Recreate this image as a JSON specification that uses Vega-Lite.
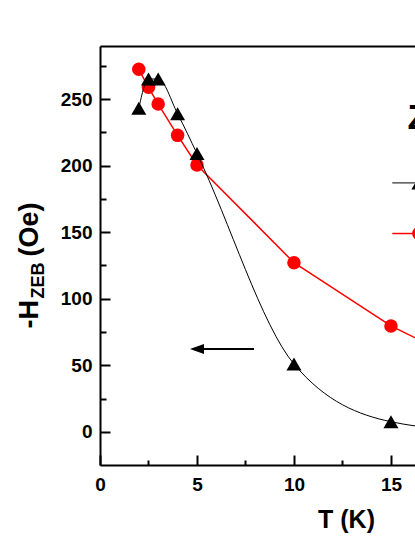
{
  "$schema": "https://vega.github.io/schema/vega-lite/v6.json",
  "width": 315,
  "height": 419,
  "autosize": {"type": "none"},
  "padding": {"left": 100, "top": 46, "right": 0, "bottom": 72},
  "background": "white",
  "config": {
    "view": {"stroke": null},
    "font": "Liberation Sans",
    "axis": {
      "domainColor": "#000000", "domainWidth": 2, "tickColor": "#000000", "tickWidth": 2,
      "labelFont": "Liberation Sans", "labelFontWeight": "bold", "labelColor": "#000000", "labelFontSize": 19,
      "titleFont": "Liberation Sans", "titleFontWeight": "bold", "titleColor": "#000000", "grid": false
    }
  },
  "datasets": {
    "hzeb": [
      {"T": 2, "H": 243, "sample": "S1"},
      {"T": 2.5, "H": 265, "sample": "S1"},
      {"T": 3, "H": 265, "sample": "S1"},
      {"T": 4, "H": 239, "sample": "S1"},
      {"T": 5, "H": 209, "sample": "S1"},
      {"T": 10, "H": 51, "sample": "S1"},
      {"T": 15, "H": 7.7, "sample": "S1"},
      {"T": 20, "H": 0, "sample": "S1"},
      {"T": 2, "H": 272.3, "sample": "S2"},
      {"T": 2.5, "H": 258.8, "sample": "S2"},
      {"T": 3, "H": 246.2, "sample": "S2"},
      {"T": 4, "H": 222.7, "sample": "S2"},
      {"T": 5, "H": 200.5, "sample": "S2"},
      {"T": 10, "H": 127.1, "sample": "S2"},
      {"T": 15, "H": 79.6, "sample": "S2"},
      {"T": 20, "H": 44, "sample": "S2"}
    ],
    "arrow": [{"T0": 5.0, "T1": 7.94, "H": 62.3}],
    "key": [
      {"sample": "S1", "T0": 15.07, "T1": 16.44, "H": 187},
      {"sample": "S2", "T0": 15.07, "T1": 16.44, "H": 149}
    ],
    "keytitle": [{"T": 15.85, "H": 227.5, "label": "Z"}]
  },
  "resolve": {"axis": {"x": "independent", "y": "independent"}},
  "layer": [
    {
      "data": {"name": "hzeb"},
      "transform": [{"filter": "datum.sample === 'S2'"}],
      "mark": {"type": "line", "color": "#ff0000", "strokeWidth": 1.5, "clip": true},
      "encoding": {
        "x": {"field": "T", "type": "quantitative",
          "scale": {"domain": [0, 16.24], "nice": false, "zero": false},
          "axis": {"orient": "bottom", "values": [0, 5, 10, 15], "tickSize": -10, "labelPadding": 20,
            "labelFlush": false, "labelOverlap": false, "title": "T (K)", "titleFontSize": 25,
            "titleX": 246, "titleY": 62, "titleAlign": "center", "titleBaseline": "alphabetic", "titleAngle": 0}},
        "y": {"field": "H", "type": "quantitative",
          "scale": {"domain": [-24.8, 289.8], "nice": false, "zero": false},
          "axis": {"orient": "left", "values": [0, 50, 100, 150, 200, 250], "tickSize": -10, "labelPadding": 18,
            "labelOverlap": false, "title": "-H", "titleFontSize": 27, "titleAngle": -90, "titleAlign": "left",
            "titleBaseline": "alphabetic", "titleX": -63, "titleY": 282}}
      }
    },
    {
      "data": {"name": "hzeb"},
      "transform": [{"filter": "datum.sample === 'S2'"}],
      "mark": {"type": "point", "shape": "circle", "filled": true, "opacity": 1, "color": "#ff0000", "size": 182, "clip": true},
      "encoding": {
        "x": {"field": "T", "type": "quantitative", "scale": {"domain": [0, 16.24], "nice": false, "zero": false}, "axis": null},
        "y": {"field": "H", "type": "quantitative", "scale": {"domain": [-24.8, 289.8], "nice": false, "zero": false}, "axis": null}
      }
    },
    {
      "data": {"name": "hzeb"},
      "transform": [{"filter": "datum.sample === 'S1'"}],
      "mark": {"type": "line", "color": "#000000", "strokeWidth": 1, "interpolate": "monotone", "clip": true},
      "encoding": {
        "x": {"field": "T", "type": "quantitative", "scale": {"domain": [0, 16.24], "nice": false, "zero": false}, "axis": null},
        "y": {"field": "H", "type": "quantitative", "scale": {"domain": [-24.8, 289.8], "nice": false, "zero": false}, "axis": null}
      }
    },
    {
      "data": {"name": "hzeb"},
      "transform": [{"filter": "datum.sample === 'S1'"}],
      "mark": {"type": "point", "shape": "triangle-up", "filled": true, "opacity": 1, "color": "#000000", "size": 225, "clip": true},
      "encoding": {
        "x": {"field": "T", "type": "quantitative", "scale": {"domain": [0, 16.24], "nice": false, "zero": false}, "axis": null},
        "y": {"field": "H", "type": "quantitative", "scale": {"domain": [-24.8, 289.8], "nice": false, "zero": false}, "axis": null}
      }
    },
    {
      "data": {"name": "arrow"},
      "mark": {"type": "rule", "color": "#000000", "strokeWidth": 2},
      "encoding": {
        "x": {"field": "T0", "type": "quantitative", "scale": {"domain": [0, 16.24], "nice": false, "zero": false}, "axis": null},
        "x2": {"field": "T1"},
        "y": {"field": "H", "type": "quantitative", "scale": {"domain": [-24.8, 289.8], "nice": false, "zero": false}, "axis": null}
      }
    },
    {
      "data": {"name": "arrow"},
      "mark": {"type": "point", "shape": "M-1,0L1,-0.72L1,0.72Z", "filled": true, "opacity": 1, "color": "#000000", "size": 196},
      "encoding": {
        "x": {"field": "T0", "type": "quantitative", "scale": {"domain": [0, 16.24], "nice": false, "zero": false}, "axis": null},
        "y": {"field": "H", "type": "quantitative", "scale": {"domain": [-24.8, 289.8], "nice": false, "zero": false}, "axis": null}
      }
    },
    {
      "data": {"name": "key"},
      "mark": {"type": "rule", "clip": true},
      "encoding": {
        "x": {"field": "T0", "type": "quantitative", "scale": {"domain": [0, 16.24], "nice": false, "zero": false}, "axis": null},
        "x2": {"field": "T1"},
        "y": {"field": "H", "type": "quantitative", "scale": {"domain": [-24.8, 289.8], "nice": false, "zero": false}, "axis": null},
        "color": {"field": "sample", "type": "nominal", "scale": {"domain": ["S1", "S2"], "range": ["#000000", "#ff0000"]}, "legend": null},
        "strokeWidth": {"field": "sample", "type": "nominal", "scale": {"domain": ["S1", "S2"], "range": [1, 1.5]}, "legend": null}
      }
    },
    {
      "data": {"name": "key"},
      "transform": [{"filter": "datum.sample === 'S1'"}],
      "mark": {"type": "point", "shape": "triangle-up", "filled": true, "opacity": 1, "color": "#000000", "size": 225, "clip": true},
      "encoding": {
        "x": {"field": "T1", "type": "quantitative", "scale": {"domain": [0, 16.24], "nice": false, "zero": false}, "axis": null},
        "y": {"field": "H", "type": "quantitative", "scale": {"domain": [-24.8, 289.8], "nice": false, "zero": false}, "axis": null}
      }
    },
    {
      "data": {"name": "key"},
      "transform": [{"filter": "datum.sample === 'S2'"}],
      "mark": {"type": "point", "shape": "circle", "filled": true, "opacity": 1, "color": "#ff0000", "size": 182, "clip": true},
      "encoding": {
        "x": {"field": "T1", "type": "quantitative", "scale": {"domain": [0, 16.24], "nice": false, "zero": false}, "axis": null},
        "y": {"field": "H", "type": "quantitative", "scale": {"domain": [-24.8, 289.8], "nice": false, "zero": false}, "axis": null}
      }
    },
    {
      "data": {"name": "keytitle"},
      "mark": {"type": "text", "font": "Liberation Sans", "fontWeight": "bold", "fontSize": 35, "align": "left", "baseline": "alphabetic", "color": "#000000", "clip": true},
      "encoding": {
        "x": {"field": "T", "type": "quantitative", "scale": {"domain": [0, 16.24], "nice": false, "zero": false}, "axis": null},
        "y": {"field": "H", "type": "quantitative", "scale": {"domain": [-24.8, 289.8], "nice": false, "zero": false}, "axis": null},
        "text": {"field": "label"}
      }
    },
    {
      "data": {"name": "hzeb"},
      "mark": {"type": "point", "opacity": 0},
      "encoding": {
        "x": {"field": "T", "type": "quantitative", "scale": {"domain": [0, 16.24], "nice": false, "zero": false},
          "axis": {"orient": "bottom", "values": [2.5, 7.5, 12.5], "tickSize": -5, "labels": false, "domain": false, "title": null}},
        "y": {"field": "H", "type": "quantitative", "scale": {"domain": [-24.8, 289.8], "nice": false, "zero": false},
          "axis": {"orient": "left", "values": [25, 75, 125, 175, 225, 275], "tickSize": -6, "labels": false, "domain": false,
            "title": "ZEB", "titleFontSize": 18, "titleAngle": -90, "titleAlign": "left", "titleBaseline": "alphabetic",
            "titleX": -57, "titleY": 252}}
      }
    },
    {
      "data": {"name": "hzeb"},
      "mark": {"type": "point", "opacity": 0},
      "encoding": {
        "x": {"field": "T", "type": "quantitative", "scale": {"domain": [0, 16.24], "nice": false, "zero": false},
          "axis": {"orient": "top", "ticks": false, "labels": false, "domain": true, "title": null}},
        "y": {"field": "H", "type": "quantitative", "scale": {"domain": [-24.8, 289.8], "nice": false, "zero": false},
          "axis": {"orient": "left", "ticks": false, "labels": false, "domain": false,
            "title": "(Oe)", "titleFontSize": 27, "titleAngle": -90, "titleAlign": "left", "titleBaseline": "alphabetic",
            "titleX": -63, "titleY": 210}}
      }
    }
  ]
}
